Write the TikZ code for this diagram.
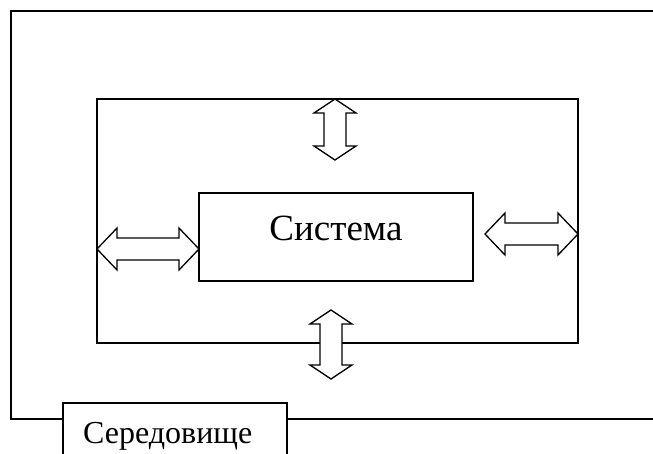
\documentclass[tikz,border=0pt]{standalone}
\usepackage{fontspec}
\setmainfont{Liberation Serif}
\usepackage{tikz}

\newcommand{\harrow}[3]{% left tip x, right tip x, y
    \draw[arr] (#1,#3) -- (#1+20,#3-21) -- (#1+20,#3-11) -- (#2-20,#3-11)
        -- (#2-20,#3-21) -- (#2,#3) -- (#2-20,#3+21) -- (#2-20,#3+11)
        -- (#1+20,#3+11) -- (#1+20,#3+21) -- cycle;}
\newcommand{\varrow}[3]{% x, top tip y, bottom tip y
    \draw[arr] (#1,#2) -- (#1+21,#2+14) -- (#1+11,#2+14) -- (#1+11,#3-14)
        -- (#1+21,#3-14) -- (#1,#3) -- (#1-21,#3-14) -- (#1-11,#3-14)
        -- (#1-11,#2+14) -- (#1-21,#2+14) -- cycle;}

\begin{document}
\begin{tikzpicture}[x=1pt,y=-1pt,
    frame/.style={draw,line width=1.3pt,inner sep=0pt,outer sep=0pt,anchor=north west},
    arr/.style={line width=1.3pt,fill=white,line join=miter}]
    \clip (0,0) rectangle (653,453);

    % Environment
    \draw[line width=1.6pt] (653,11) -- (11,11) -- (11,419) -- (63,419);
    \draw[line width=1.6pt] (287,419) -- (653,419);
    \node[frame,minimum width=224pt,minimum height=60pt] (envbox) at (63,403) {};
    \node[anchor=base west,inner sep=0pt,font=\fontsize{32}{36}\selectfont] (envtext) at (83,443) {Середовище};

    % Boundary
    \node[frame,minimum width=481pt,minimum height=244pt] (bound) at (97,99) {};

    % System
    \node[frame,minimum width=274pt,minimum height=88pt] (sys) at (199,193) {};
    \node[anchor=base,font=\fontsize{37}{40}\selectfont] (systext) at (336,240) {Система};

    % Exchange
    \harrow{97}{199}{249}
    \harrow{485}{578}{234}
    \varrow{335}{99}{160}
    \varrow{331}{310}{379}
\end{tikzpicture}
\end{document}
